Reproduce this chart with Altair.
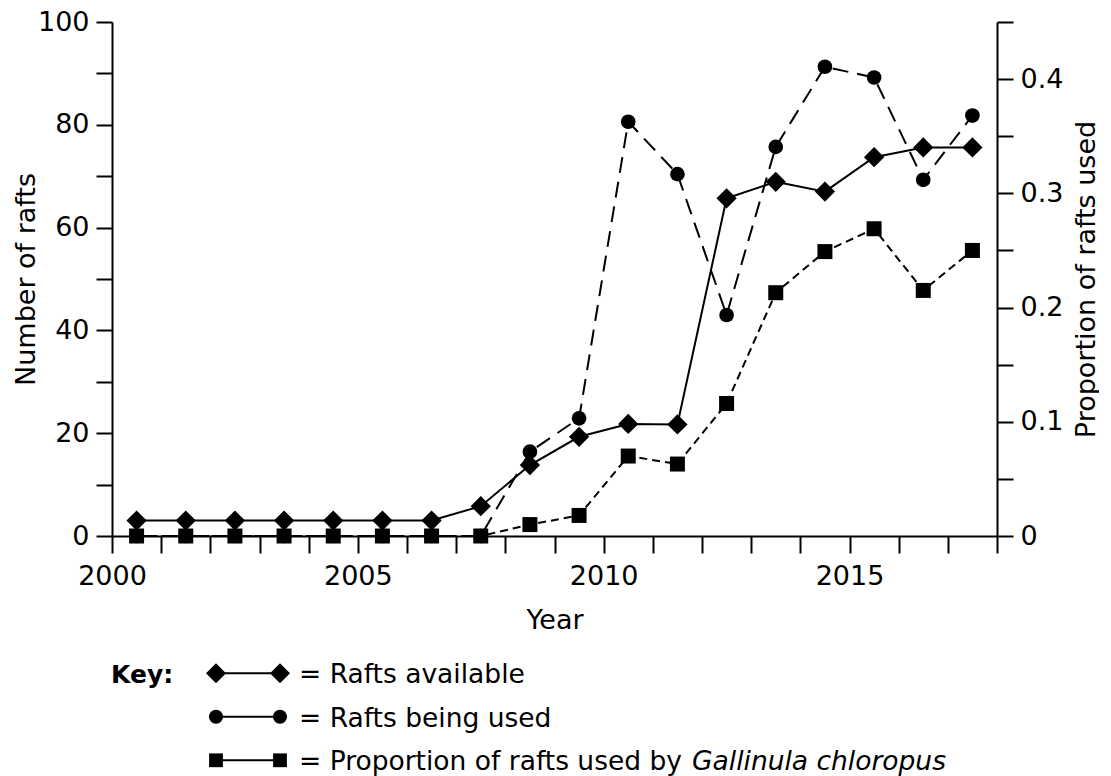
import altair as alt
import pandas as pd

# ---------------- data ----------------
years = [2000.5, 2001.5, 2002.5, 2003.5, 2004.5, 2005.5, 2006.5, 2007.5, 2008.5,
         2009.5, 2010.5, 2011.5, 2012.5, 2013.5, 2014.5, 2015.5, 2016.5, 2017.5]
rafts_available = [3, 3, 3, 3, 3, 3, 3, 5.8, 13.8, 19.3, 21.8, 21.7, 65.7, 68.9, 67.0, 73.7, 75.6, 75.6]
rafts_used = [0, 0, 0, 0, 0, 0, 0, 0, 16.4, 22.9, 80.6, 70.4, 43.0, 75.7, 91.3, 89.2, 69.3, 81.8]
prop_gallinula = [0, 0, 0, 0, 0, 0, 0, 0, 0.010, 0.018, 0.070, 0.063, 0.116, 0.213,
                  0.249, 0.269, 0.215, 0.250]

x_ticks = list(range(2000, 2019))
left_ticks = list(range(0, 101, 10))
right_ticks = [round(i * 0.05, 2) for i in range(10)]

key_title = "Key:"
key_labels = ["= Rafts available", "= Rafts being used", "= Proportion of rafts used by "]
key_italic = "Gallinula chloropus"
key_shapes = ["diamond", "circle", "square"]

df = pd.DataFrame({"year": years, "available": rafts_available,
                   "used": rafts_used, "prop": prop_gallinula})
one = pd.DataFrame({"k": [0]})

# ---------------- styling ----------------
FONT = "DejaVu Sans"
W, H = 885, 514
LBL = 27
TTL = 27
KEY_FS = 26.5

X = alt.X("year:Q",
          scale=alt.Scale(domain=[2000, 2018], nice=False, zero=False),
          axis=alt.Axis(values=x_ticks, title="Year", tickSize=17, labelPadding=10,
                        labelExpr="datum.value % 5 === 0 ? '' + datum.value : ''",
                        titleY=92, titleBaseline="alphabetic"))

y_left = alt.Y("available:Q", scale=alt.Scale(domain=[0, 100], nice=False),
               axis=alt.Axis(orient="left", values=left_ticks, title="Number of rafts",
                             tickSize=16, labelPadding=7,
                             labelExpr="datum.value % 20 === 0 ? '' + datum.value : ''",
                             titleAngle=270, titleX=-78, titleY=H / 2,
                             titleBaseline="alphabetic", titleAlign="center"))
y_left_noaxis = alt.Y("available:Q", scale=alt.Scale(domain=[0, 100], nice=False), axis=None)
y_used = alt.Y("used:Q", scale=alt.Scale(domain=[0, 100], nice=False), axis=None)
y_right = alt.Y("prop:Q", scale=alt.Scale(domain=[0, 0.45], nice=False),
                axis=alt.Axis(orient="right", values=right_ticks, title="Proportion of rafts used",
                              tickSize=16, labelPadding=7,
                              labelExpr="round(datum.value * 100) % 10 === 0 ? format(datum.value, '.1~f') : ''",
                              titleAngle=270, titleX=97, titleY=H / 2,
                              titleBaseline="alphabetic", titleAlign="center"))
y_right_noaxis = alt.Y("prop:Q", scale=alt.Scale(domain=[0, 0.45], nice=False), axis=None)

base = alt.Chart(df)

used_line = base.mark_line(color="black", strokeWidth=2, strokeDash=[16, 9]).encode(x=X, y=y_used)
used_pts = base.mark_point(shape="circle", size=215, filled=True, color="black", opacity=1).encode(x=X, y=y_used)

prop_line = base.mark_line(color="black", strokeWidth=2, strokeDash=[8, 5]).encode(x=X, y=y_right)
prop_pts = base.mark_point(shape="square", size=225, filled=True, color="black", opacity=1).encode(x=X, y=y_right_noaxis)

avail_line = base.mark_line(color="black", strokeWidth=2).encode(x=X, y=y_left)
avail_pts = base.mark_point(shape="diamond", size=410, filled=True, color="black", opacity=1).encode(x=X, y=y_left_noaxis)

layers = [used_line, used_pts, prop_line, prop_pts, avail_line, avail_pts]

# ---------------- key (drawn below the plot) ----------------
ROW0 = 651.3
ROW_GAP = 43.5
SYM_X = [104, 168]
SYM_SIZE = {"diamond": 400, "circle": 200, "square": 190}
TEXT_X = 187

layers.append(alt.Chart(one).mark_text(text=key_title, align="left", baseline="alphabetic",
                                       font=FONT, fontSize=25, fontWeight="bold", color="black")
              .encode(x=alt.value(-1), y=alt.value(ROW0 + 10)))
for i, (label, shape) in enumerate(zip(key_labels, key_shapes)):
    cy = ROW0 + i * ROW_GAP
    layers.append(alt.Chart(one).mark_rule(color="black", strokeWidth=2)
                  .encode(x=alt.value(SYM_X[0]), x2=alt.value(SYM_X[1]), y=alt.value(cy)))
    for sx in SYM_X:
        layers.append(alt.Chart(one).mark_point(shape=shape, size=SYM_SIZE[shape], filled=True,
                                                color="black", opacity=1)
                      .encode(x=alt.value(sx), y=alt.value(cy)))
    layers.append(alt.Chart(one).mark_text(text=label, align="left", baseline="alphabetic",
                                           font=FONT, fontSize=KEY_FS, color="black")
                  .encode(x=alt.value(TEXT_X), y=alt.value(cy + 10)))

# italic species name after the last key label (DejaVu Sans advance of the plain part)
plain_em = 14.831
layers.append(alt.Chart(one).mark_text(text=key_italic, align="left", baseline="alphabetic",
                                       font=FONT, fontSize=KEY_FS, fontStyle="italic", color="black")
              .encode(x=alt.value(TEXT_X + plain_em * KEY_FS), y=alt.value(ROW0 + 2 * ROW_GAP + 10)))

chart = (
    alt.layer(*layers)
    .resolve_scale(y="independent")
    .properties(width=W, height=H,
                autosize=alt.AutoSizeParams(type="none"),
                padding={"left": 104, "top": 14, "right": 102, "bottom": 246},
                background="white")
    .configure_view(stroke=None)
    .configure_axis(domainColor="black", domainWidth=2, tickColor="black", tickWidth=2,
                    labelColor="black", titleColor="black", labelFont=FONT, titleFont=FONT,
                    labelFontSize=LBL, titleFontSize=TTL, titleFontWeight="normal",
                    grid=False, labelOverlap=False, labelFlush=False, labelBound=False)
)

chart.save("out.html", embed_options={"renderer": "svg", "actions": False})
